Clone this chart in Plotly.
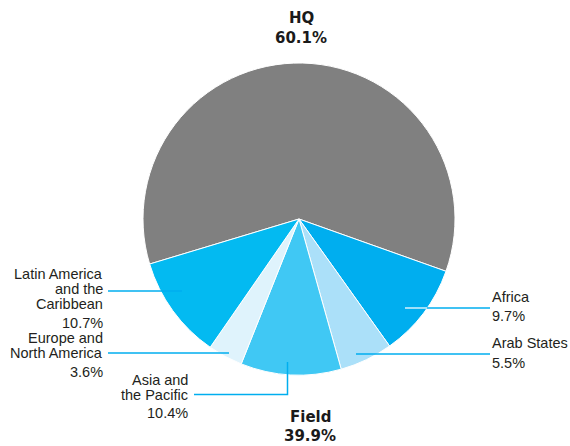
import plotly.graph_objects as go

# ---- data ----
categories = ["HQ", "Africa", "Arab States", "Asia and the Pacific",
              "Europe and North America", "Latin America and the Caribbean"]
shares = [60.1, 9.7, 5.5, 10.4, 3.6, 10.7]
label_lines = {
    "Africa": ["Africa"],
    "Arab States": ["Arab States"],
    "Asia and the Pacific": ["Asia and", "the Pacific"],
    "Europe and North America": ["Europe and", "North America"],
    "Latin America and the Caribbean": ["Latin America", "and the", "Caribbean"],
}
field_share = round(sum(shares[1:]), 1)

# ---- styles ----
colors = ["#808080", "#00aeef", "#abe0f9", "#40c8f4", "#dff3fc", "#03baf1"]
W, H = 570, 446
CX, CY, R = 299, 219, 156
LINE_COL = "#00aeef"
TXT_COL = "#231f20"
FONT = "Liberation Sans"
BFONT = "DejaVu Sans"
FS = 14.5
BFS = 15

def px(x):
    return x / W

def py(y):
    return 1 - y / H

# HQ slice is centred just right of 12 o'clock
rotation = 1.4 - shares[0] * 360 / 100 / 2

fig = go.Figure(go.Pie(
    labels=categories, values=shares, sort=False, direction="clockwise",
    rotation=rotation, marker=dict(colors=colors, line=dict(color="white", width=1)),
    textinfo="none", hoverinfo="label+percent", showlegend=False,
    domain=dict(x=[px(CX - R), px(CX + R)], y=[py(CY + R), py(CY - R)]),
))

# label layout: side, text x, baselines of name lines, baseline of pct, leader path
layout_spec = {
    "Africa": dict(side="left", x=491, base=[302], pbase=321,
                   path=[(405, 308), (490, 308)], inner=(405, 427)),
    "Arab States": dict(side="left", x=491, base=[348], pbase=368,
                        path=[(356, 354), (490, 354)]),
    "Asia and the Pacific": dict(side="right", x=189, base=[385, 399.5], pbase=418,
                                 path=[(287.5, 362), (287.5, 394.5), (194, 394.5)]),
    "Europe and North America": dict(side="right", x=104, base=[343, 357.5], pbase=377,
                                     path=[(229, 353), (108, 353)]),
    "Latin America and the Caribbean": dict(side="right", x=104, base=[279, 294, 308.5], pbase=328,
                                            path=[(182, 291), (108, 291)]),
}

annotations = []
shapes = []

def add_text(txt, x, baseline, anchor, size, family, bold=False):
    annotations.append(dict(
        text=f"<b>{txt}</b>" if bold else txt, x=px(x), y=py(baseline - 0.33 * size),
        xref="paper", yref="paper", xanchor=anchor, yanchor="middle",
        showarrow=False, font=dict(family=family, size=size, color="#1a1a1a" if bold else TXT_COL),
        borderpad=0,
    ))

for cat, val in zip(categories[1:], shares[1:]):
    spec = layout_spec[cat]
    for line, b in zip(label_lines[cat], spec["base"]):
        add_text(line, spec["x"], b, spec["side"], FS, FONT)
    add_text(f"{val:.1f}%", spec["x"], spec["pbase"], spec["side"], FS, FONT)
    pts = spec["path"]
    d = "M " + " L ".join(f"{px(x)},{py(y)}" for x, y in pts)
    shapes.append(dict(type="path", path=d, xref="paper", yref="paper",
                       line=dict(color=LINE_COL, width=1.5)))
    if "inner" in spec:
        x0, x1 = spec["inner"]
        yy = pts[0][1]
        shapes.append(dict(type="line", x0=px(x0), x1=px(x1), y0=py(yy), y1=py(yy),
                           xref="paper", yref="paper",
                           line=dict(color="#d6f1fc", width=1.5)))

add_text("HQ", 301, 23, "center", BFS, BFONT, bold=True)
add_text(f"{shares[0]:.1f}%", 301, 43, "center", BFS, BFONT, bold=True)
add_text("Field", 310, 422, "center", BFS, BFONT, bold=True)
add_text(f"{field_share:.1f}%", 310, 441, "center", BFS, BFONT, bold=True)

fig.update_layout(
    width=W, height=H, margin=dict(l=0, r=0, t=0, b=0),
    paper_bgcolor="white", plot_bgcolor="white",
    annotations=annotations, shapes=shapes,
)

fig.write_html("out.html")
